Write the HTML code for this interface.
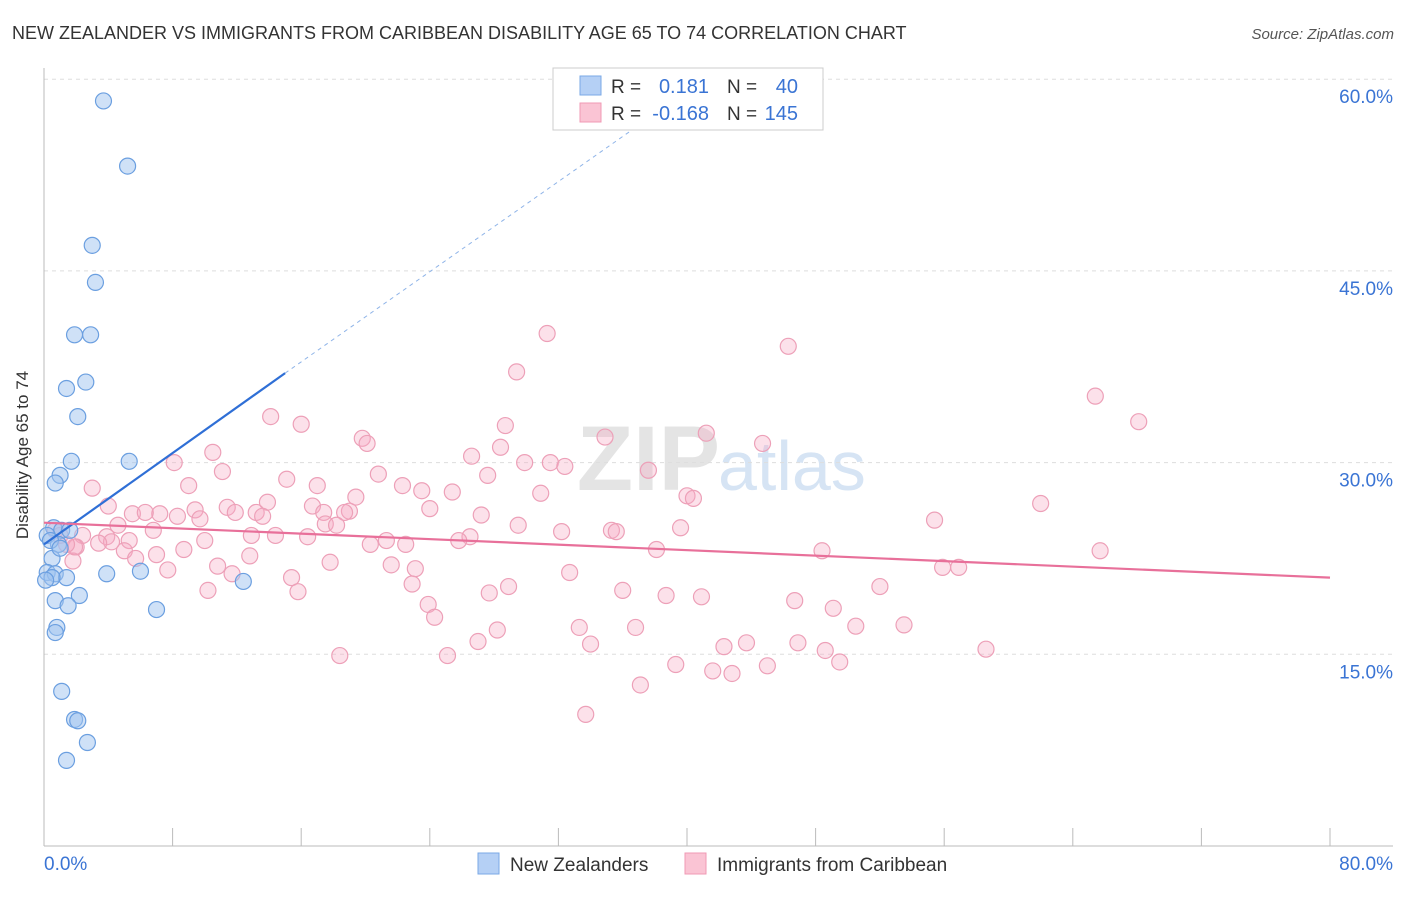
<!DOCTYPE html>
<html><head><meta charset="utf-8"><style>
body{margin:0;background:#fff;font-family:"Liberation Sans",sans-serif;}
svg text{font-family:"Liberation Sans",sans-serif;}
</style></head><body>
<svg id="chart" width="1406" height="892">
<text x="12" y="39" font-size="18" fill="#333">NEW ZEALANDER VS IMMIGRANTS FROM CARIBBEAN DISABILITY AGE 65 TO 74 CORRELATION CHART</text>
<text x="1394" y="39" font-size="15" fill="#555" text-anchor="end" font-style="italic">Source: ZipAtlas.com</text>
<text x="720" y="490" font-size="92" fill="#e4e4e4" text-anchor="end" font-family="Liberation Serif" font-weight="bold">ZIP</text>
<text x="718" y="490" font-size="70" fill="#d6e4f4">atlas</text>
<g id="grid"></g>
<g id="axes"></g>
<g id="pink"></g>
<g id="blue"></g>
<g id="trend"></g>
<text x="28" y="455" font-size="17" fill="#333" text-anchor="middle" transform="rotate(-90 28 455)">Disability Age 65 to 74</text>
<g>
<rect x="553" y="68" width="270" height="62" fill="#fff" stroke="#ccc"/>
<rect x="580" y="76" width="21" height="19" fill="#b5d0f5" stroke="#7aa8e6"/>
<rect x="580" y="103" width="21" height="19" fill="#fac4d4" stroke="#f09ab4"/>
<text x="611" y="93" font-size="19" fill="#333">R =</text>
<text x="709" y="93" font-size="20" fill="#3a74d4" text-anchor="end">0.181</text>
<text x="727" y="93" font-size="19" fill="#333">N =</text>
<text x="798" y="93" font-size="20" fill="#3a74d4" text-anchor="end">40</text>
<text x="611" y="120" font-size="19" fill="#333">R =</text>
<text x="709" y="120" font-size="20" fill="#3a74d4" text-anchor="end">-0.168</text>
<text x="727" y="120" font-size="19" fill="#333">N =</text>
<text x="798" y="120" font-size="20" fill="#3a74d4" text-anchor="end">145</text>
</g>
<g>
<rect x="478" y="853" width="21" height="21" fill="#b5d0f5" stroke="#7aa8e6"/>
<text x="510" y="871" font-size="19" fill="#333">New Zealanders</text>
<rect x="685" y="853" width="21" height="21" fill="#fac4d4" stroke="#f09ab4"/>
<text x="717" y="871" font-size="19" fill="#333">Immigrants from Caribbean</text>
</g>
</svg>
<script>
const yTicks=[15,30,45,60];
const yTickLabels=["15.0%","30.0%","45.0%","60.0%"];
const xLabels=["0.0%","80.0%"];
const blueX=[3.7,5.2,3.0,3.2,1.9,2.9,1.4,2.6,2.1,1.7,5.3,1.0,0.7,0.6,1.1,0.2,0.9,0.5,0.2,0.7,1.4,0.5,3.9,6.0,12.4,2.2,0.7,1.5,7.0,0.8,0.7,1.1,1.9,2.1,2.7,1.4,0.4,1.0,1.6,0.1];
const blueY=[58.3,53.2,47.0,44.1,40.0,40.0,35.8,36.3,33.6,30.1,30.1,29.0,28.4,24.9,24.7,24.3,23.6,22.5,21.4,21.3,21.0,21.0,21.3,21.5,20.7,19.6,19.2,18.8,18.5,17.1,16.7,12.1,9.9,9.8,8.1,6.7,23.9,23.3,24.7,20.8];
const pinkX=[31.3,46.3,29.4,65.4,68.1,14.1,16.0,28.7,19.8,20.1,34.9,41.2,44.7,28.4,26.6,8.1,10.5,31.5,29.9,32.4,27.6,37.6,20.8,11.1,15.1,3.0,9.0,17.0,22.3,23.5,25.4,30.9,19.4,40.0,40.4,4.0,9.4,16.7,24.0,27.2,11.4,13.9,11.9,13.2,5.5,7.2,6.3,8.3,9.7,13.6,17.4,19.0,18.7,17.5,18.2,62.0,55.4,29.5,39.6,4.6,6.8,0.7,1.0,2.4,3.9,4.2,5.3,3.4,2.0,26.5,25.8,32.2,35.3,35.6,14.4,16.4,12.9,10.0,20.3,21.3,22.5,5.0,7.0,8.7,12.8,1.8,5.7,17.8,21.6,23.1,32.7,38.1,48.4,65.7,7.7,10.8,11.7,15.4,55.9,56.9,22.9,28.9,10.2,15.8,27.7,36.0,38.7,40.9,46.7,52.0,49.1,23.9,24.3,33.3,36.8,28.2,50.5,53.5,34.0,43.7,42.3,46.9,48.6,18.4,25.1,27.0,58.6,39.3,41.6,42.8,45.0,49.5,37.1,33.7,1.9,1.4];
const pinkY=[40.1,39.1,37.1,35.2,33.2,33.6,33.0,32.9,31.9,31.5,32.0,32.3,31.5,31.2,30.5,30.0,30.8,30.0,30.0,29.7,29.0,29.4,29.1,29.3,28.7,28.0,28.2,28.2,28.2,27.8,27.7,27.6,27.3,27.4,27.2,26.6,26.3,26.6,26.4,25.9,26.5,26.9,26.1,26.1,26.0,26.0,26.1,25.8,25.6,25.8,26.1,26.2,26.1,25.2,25.1,26.8,25.5,25.1,24.9,25.1,24.7,24.7,24.3,24.3,24.2,23.8,23.9,23.7,23.4,24.2,23.9,24.6,24.7,24.6,24.3,24.2,24.3,23.9,23.6,23.9,23.6,23.1,22.8,23.2,22.7,22.3,22.5,22.2,22.0,21.7,21.4,23.2,23.1,23.1,21.6,21.9,21.3,21.0,21.8,21.8,20.5,20.3,20.0,19.9,19.8,20.0,19.6,19.5,19.2,20.3,18.6,18.9,17.9,17.1,17.1,16.9,17.2,17.3,15.8,15.9,15.6,15.9,15.3,14.9,14.9,16.0,15.4,14.2,13.7,13.5,14.1,14.4,12.6,10.3,23.4,23.6];
const blueTrendX=[0,15,37];
const blueTrendY=[23.6,37.0,56.4];
const pinkTrendX=[0,80];
const pinkTrendY=[25.3,21.0];
const NS="http://www.w3.org/2000/svg";
const X=v=>44+v*(1286/80);
const Y=v=>846-v*12.78;
function mk(tag,attrs,parent){const e=document.createElementNS(NS,tag);for(const k in attrs)e.setAttribute(k,attrs[k]);parent.appendChild(e);return e;}
const grid=document.getElementById('grid'),axes=document.getElementById('axes');
yTicks.forEach((t,i)=>{
  const l=mk('line',{x1:44,x2:1393,y1:Y(t),y2:Y(t),stroke:'#ddd','stroke-dasharray':'4,4'},grid);
  
  
  const tx=mk('text',{x:1393,y:Y(t)+24,'font-size':19,fill:'#3a74d4','text-anchor':'end'},axes);
  tx.textContent=yTickLabels[i];
  
  
});
const xa=mk('line',{x1:44,x2:1393,y1:846,y2:846,stroke:'#bbb'},axes);


const ya=mk('line',{x1:44,x2:44,y1:68,y2:846,stroke:'#bbb'},axes);


for(let i=0;i<=10;i++){const tk=mk('line',{x1:X(i*8),x2:X(i*8),y1:828,y2:846,stroke:'#bbb'},axes);
  
  }
const xl0=mk('text',{x:44,y:870,'font-size':19,fill:'#3a74d4'},axes);xl0.textContent=xLabels[0];


const xl1=mk('text',{x:1393,y:870,'font-size':19,fill:'#3a74d4','text-anchor':'end'},axes);xl1.textContent=xLabels[1];


const pg=document.getElementById('pink');
pinkX.forEach((x,i)=>{const c=mk('circle',{cx:X(x),cy:Y(pinkY[i]),r:8,fill:'rgba(245,170,195,0.35)',stroke:'#eda0b8','stroke-width':1.2},pg);
  
  });
const bg=document.getElementById('blue');
blueX.forEach((x,i)=>{const c=mk('circle',{cx:X(x),cy:Y(blueY[i]),r:8,fill:'rgba(160,196,240,0.5)',stroke:'#6b9fe0','stroke-width':1.2},bg);
  
  });
const tg=document.getElementById('trend');
const b1=mk('line',{x1:X(blueTrendX[0]),y1:Y(blueTrendY[0]),x2:X(blueTrendX[1]),y2:Y(blueTrendY[1]),stroke:'#2f6fd6','stroke-width':2.2},tg);


const b2=mk('line',{x1:X(blueTrendX[1]),y1:Y(blueTrendY[1]),x2:X(blueTrendX[2]),y2:Y(blueTrendY[2]),stroke:'#8fb4e8','stroke-width':1,'stroke-dasharray':'4,4'},tg);


const p1=mk('line',{x1:X(pinkTrendX[0]),y1:Y(pinkTrendY[0]),x2:X(pinkTrendX[1]),y2:Y(pinkTrendY[1]),stroke:'#e8709a','stroke-width':2.2},tg);


</script>
</body></html>
